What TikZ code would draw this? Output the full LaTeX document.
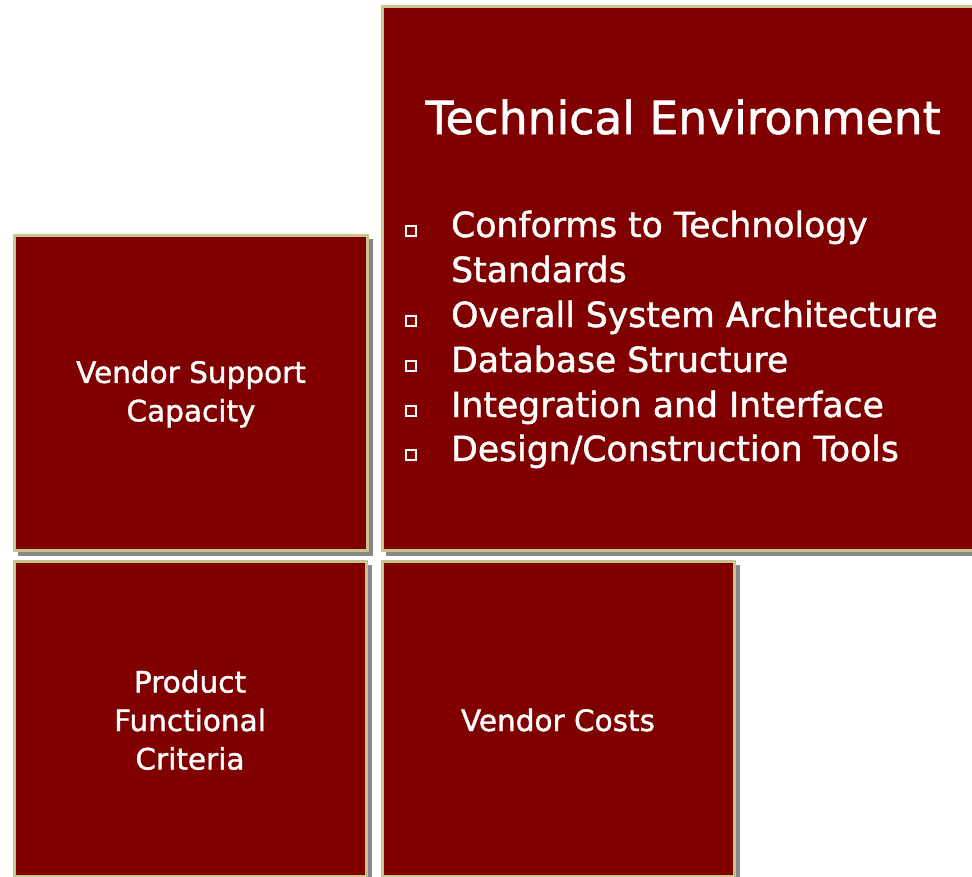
\documentclass[tikz,border=0pt]{standalone}
\usepackage{fontspec}
\setmainfont{DejaVu Sans}[FakeBold=1.3]
\definecolor{boxred}{HTML}{800000}
\definecolor{boxrim}{HTML}{C8C48E}
\definecolor{shade}{HTML}{888888}
\begin{document}
\begin{tikzpicture}[x=1bp,y=-1bp,
  panel/.style={fill=boxred,draw=boxrim,line width=3bp},
  panelshadow/.style={fill=shade},
  boxtext/.style={text=white,align=center,inner sep=0pt,font=\fontsize{29.5bp}{38.5bp}\selectfont},
  titletext/.style={text=white,inner sep=0pt,anchor=base,font=\fontsize{45.6bp}{50bp}\selectfont},
  itemtext/.style={text=white,inner sep=0pt,anchor=base west,font=\fontsize{34.6bp}{45bp}\selectfont},
  bulletbox/.style={draw=white,line width=1.8bp,minimum size=10.5bp,inner sep=0pt}]
\useasboundingbox (0,0) rectangle (972,877);
\begin{scope}
\clip (0,0) rectangle (972,877);
% shadows
\fill[panelshadow] (18,239) rectangle (373,556);
\fill[panelshadow] (386,10) rectangle (990,556);
\fill[panelshadow] (18,565) rectangle (372,900);
\fill[panelshadow] (386,565) rectangle (740,900);
% panels
\path[panel] (14.5,235.5) rectangle (367.5,550.5);
\path[panel] (382.5,6.5) rectangle (985,550.5);
\path[panel] (14.5,561.5) rectangle (366.5,876);
\path[panel] (382.5,561.5) rectangle (734.5,876);
\end{scope}
% texts
\node[boxtext] (vs) at (191,394) {Vendor Support\\Capacity};
\node[boxtext] (pf) at (190,720) {Product\\Functional\\Criteria};
\node[boxtext] (vc) at (558,720) {Vendor Costs};
\node[titletext] (te) at (683,134) {Technical Environment};
\node[itemtext] (i1) at (451,237) {Conforms to Technology};
\node[itemtext] (i1b) at (451,282) {Standards};
\node[itemtext] (i2) at (451,327) {Overall System Architecture};
\node[itemtext] (i3) at (451,372) {Database Structure};
\node[itemtext] (i4) at (451,417) {Integration and Interface};
\node[itemtext] (i5) at (451,461) {Design/Construction Tools};
\node[bulletbox] (b1) at (411,231) {};
\node[bulletbox] (b2) at (411,321) {};
\node[bulletbox] (b3) at (411,366) {};
\node[bulletbox] (b4) at (411,411) {};
\node[bulletbox] (b5) at (411,455) {};
\end{tikzpicture}
\end{document}
